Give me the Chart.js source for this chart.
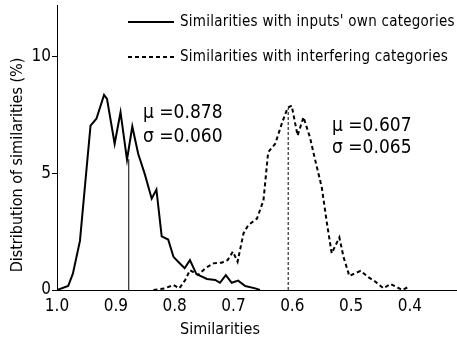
<!DOCTYPE html>
<html><head><meta charset="utf-8">
<script src="https://cdn.jsdelivr.net/npm/chart.js@4/dist/chart.umd.min.js"></script>
<style>html,body{margin:0;padding:0;background:#fff;}#wrap{width:457px;height:341px;}</style>
</head><body><div id="wrap"><canvas id="c" width="457" height="341"></canvas></div>
<script>
const ownSim  = [1.000,0.981,0.973,0.961,0.949,0.943,0.933,0.920,0.915,0.902,0.892,0.881,0.872,0.862,0.851,0.839,0.831,0.822,0.811,0.802,0.794,0.783,0.774,0.763,0.745,0.731,0.723,0.713,0.703,0.692,0.680,0.663,0.655];
const ownDist = [0,0.17,0.7,2.1,5.4,7.04,7.33,8.35,8.18,6.26,7.61,5.58,7.0,5.83,4.98,3.91,4.3,2.30,2.16,1.42,1.21,0.93,1.28,0.68,0.47,0.43,0.31,0.64,0.31,0.40,0.17,0.07,0];
const intSim  = [0.836,0.817,0.802,0.792,0.782,0.774,0.760,0.748,0.734,0.720,0.710,0.701,0.693,0.683,0.675,0.660,0.649,0.641,0.629,0.618,0.608,0.601,0.591,0.581,0.570,0.561,0.550,0.541,0.533,0.520,0.513,0.503,0.484,0.470,0.459,0.445,0.433,0.413,0.402];
const intDist = [0,0.07,0.21,0.07,0.43,0.85,0.64,0.93,1.14,1.17,1.28,1.64,1.21,2.42,2.77,3.06,3.84,5.9,6.26,7.11,7.8,7.89,6.61,7.4,6.54,5.55,4.41,2.84,1.57,2.25,1.42,0.60,0.82,0.54,0.36,0.07,0.26,0,0.14];
const ownMean = 0.878, ownSd = 0.060, ownMeanHeight = 5.6;
const intMean = 0.607, intSd = 0.065, intMeanHeight = 7.8;
const xTicks = [1.0,0.9,0.8,0.7,0.6,0.5,0.4];
const yTicks = [0,5,10];
const seriesLabels = ["Similarities with inputs' own categories","Similarities with interfering categories"];
const xTitle = 'Similarities';
const yTitle = 'Distribution of similarities (%)';

const FONT = "'Liberation Sans Narrow','DejaVu Sans Condensed','Liberation Sans',sans-serif";
const pts = (xs, ys) => xs.map((x,i)=>({x:x,y:ys[i]}));

const overlay = {
  id:'overlay',
  afterDraw(chart){
    const ctx = chart.ctx;
    ctx.save();
    ctx.fillStyle = '#000'; ctx.strokeStyle = '#000';
    ctx.textBaseline = 'middle';
    // legend
    ctx.font = "15px " + FONT;
    try { ctx.letterSpacing = '0.25px'; } catch(e) {}
    ctx.lineWidth = 2;
    ctx.setLineDash([]);
    ctx.beginPath(); ctx.moveTo(128,22); ctx.lineTo(174,22); ctx.stroke();
    ctx.fillText(seriesLabels[0], 180, 22);
    ctx.setLineDash([4,3]);
    ctx.beginPath(); ctx.moveTo(128,57); ctx.lineTo(175,57); ctx.stroke();
    ctx.setLineDash([]);
    ctx.fillText(seriesLabels[1], 180, 57);
    try { ctx.letterSpacing = '0px'; } catch(e) {}
    // annotations
    ctx.font = "19px " + FONT;
    ctx.fillText('\u03bc =' + ownMean.toFixed(3), 143, 113);
    ctx.fillText('\u03c3 =' + ownSd.toFixed(3), 143, 137);
    ctx.fillText('\u03bc =' + intMean.toFixed(3), 332, 126);
    ctx.fillText('\u03c3 =' + intSd.toFixed(3), 332, 148);
    // axis titles
    ctx.textAlign = 'center';
    ctx.font = "16px " + FONT;
    ctx.fillText(xTitle, 220, 330);
    ctx.translate(18, 165);
    ctx.rotate(-Math.PI/2);
    ctx.fillText(yTitle, 0, 0);
    ctx.restore();
  }
};

new Chart(document.getElementById('c'), {
  type:'line',
  data:{datasets:[
    {data:pts(ownSim,ownDist), borderColor:'#000', borderWidth:2, pointRadius:0, tension:0, fill:false},
    {data:pts(intSim,intDist), borderColor:'#000', borderWidth:2, borderDash:[4,3], pointRadius:0, tension:0, fill:false},
    {data:[{x:ownMean,y:0},{x:ownMean,y:ownMeanHeight}], borderColor:'#000', borderWidth:1, pointRadius:0},
    {data:[{x:intMean,y:0},{x:intMean,y:intMeanHeight}], borderColor:'#000', borderWidth:1, borderDash:[3,2], pointRadius:0}
  ]},
  options:{
    responsive:false, animation:false, events:[],
    layout:{padding:{top:5,left:0,right:0,bottom:0}},
    plugins:{legend:{display:false}, tooltip:{enabled:false}},
    scales:{
      x:{type:'linear', reverse:true, min:0.32, max:1.0,
        afterFit(s){s.height=51; s.paddingLeft=0; s.paddingRight=0;},
        afterBuildTicks(s){s.ticks = xTicks.map(v=>({value:v}));},
        grid:{drawOnChartArea:false, drawTicks:false},
        border:{color:'#000', width:1},
        ticks:{color:'#000', font:{family:FONT, size:17}, padding:6, callback:v=>v.toFixed(1)}
      },
      y:{type:'linear', min:0, max:12.2,
        afterFit(s){s.width=57; s.paddingTop=0; s.paddingBottom=0;},
        afterBuildTicks(s){s.ticks = yTicks.map(v=>({value:v}));},
        grid:{drawOnChartArea:false, tickLength:5, color:'#000'},
        border:{color:'#000', width:1},
        ticks:{color:'#000', font:{family:FONT, size:17}, padding:1}
      }
    }
  },
  plugins:[overlay]
});
</script></body></html>
